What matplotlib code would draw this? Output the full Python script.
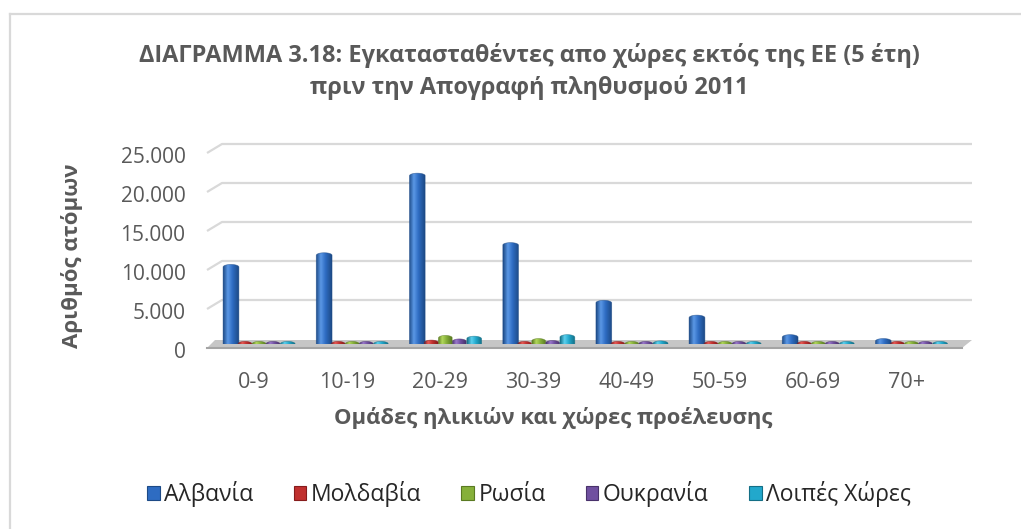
import numpy as np
import matplotlib
matplotlib.use("Agg")
import matplotlib.pyplot as plt
from matplotlib.path import Path
from matplotlib.patches import PathPatch, Polygon, Patch
from matplotlib.colors import LinearSegmentedColormap
from matplotlib.lines import Line2D
from matplotlib.transforms import ScaledTranslation

# ---- data -------------------------------------------------------------
age_groups = ["0-9", "10-19", "20-29", "30-39", "40-49", "50-59", "60-69", "70+"]
countries = ["Αλβανία", "Μολδαβία", "Ρωσία", "Ουκρανία", "Λοιπές Χώρες"]
albania = [10200, 11700, 21900, 13000, 5600, 3700, 1200, 700]
moldova = [150, 300, 500, 300, 150, 150, 100, 100]
russia = [200, 200, 1100, 700, 250, 250, 150, 150]
ukraine = [150, 150, 650, 450, 200, 150, 100, 100]
others = [250, 200, 1000, 1200, 400, 300, 200, 150]
y_ticks = [0, 5000, 10000, 15000, 20000, 25000]

title_lines = ["ΔΙΑΓΡΑΜΜΑ 3.18: Εγκατασταθέντες απο χώρες εκτός της ΕΕ (5 έτη)",
               "πριν την Απογραφή πληθυσμού 2011"]
x_title = "Ομάδες ηλικιών και χώρες προέλευσης"
y_title = "Αριθμός ατόμων"

# ---- style ------------------------------------------------------------
series = [albania, moldova, russia, ukraine, others]
offsets = [-0.247, -0.097, 0.054, 0.204, 0.362]
widths = [0.17, 0.15, 0.15, 0.15, 0.16]
palette = [
    ("#1d4a86", "#5b98e6", "#2e6cc2"),
    ("#861c1c", "#e85a55", "#c0302e"),
    ("#5a7a22", "#b2d85c", "#86b03a"),
    ("#49326b", "#9a78cc", "#7050a0"),
    ("#146f86", "#5cd0ee", "#22a8cc"),
]
text_grey = "#595959"
plt.rcParams["font.family"] = ["Open Sans", "DejaVu Sans"]

W, H, DPI = 1021, 529, 100
fig = plt.figure(figsize=(W / DPI, H / DPI), dpi=DPI)
fig.patch.set_facecolor("white")

ax_l, ax_r, ax_b, ax_t = 207, 972, 344, 149  # pixel frame of the plot area
ax = fig.add_axes([ax_l / W, 1 - ax_b / H, (ax_r - ax_l) / W, (ax_b - ax_t) / H])
cat_step = 93.2                       # pixels per category
x_min = (ax_l - 254) / cat_step
x_max = (ax_r - 254) / cat_step
py = 25000 / (ax_b - ax_t)            # data units per pixel (y)
px = 1 / cat_step                     # data units per pixel (x)
ax.patch.set_alpha(0)
for s in ax.spines.values():
    s.set_visible(False)

# back-wall gridlines with a short perspective stub on the left
for v in y_ticks[1:]:
    ax.plot([x_min, x_min + 15 * px, x_max], [v - 4 * py, v + 5 * py, v + 5 * py],
            color="#d9d9d9", lw=1.6, zorder=1, clip_on=False, solid_capstyle="butt")

# floor
floor = Polygon([(x_min + 8 * px, 4 * py), (x_max, 4 * py),
                 (x_max - 10 * px, -4 * py), (x_min, -4 * py)],
                closed=True, facecolor="#c6c6c6", edgecolor="none", zorder=2, clip_on=False)
ax.add_patch(floor)
ax.plot([x_min, x_max - 10 * px], [-4 * py, -4 * py], color="#a4a4a4", lw=1.5,
        zorder=2, clip_on=False)


def bar_path(x0, x1, v, r):
    """Column outline with rounded top and bottom ends."""
    xc, hw = (x0 + x1) / 2, (x1 - x0) / 2
    top = max(v - r, 0)
    tb = np.linspace(np.pi, 2 * np.pi, 20)
    tt = np.linspace(0, np.pi, 20)
    pts = [(xc + hw * np.cos(t), r * np.sin(t)) for t in tb]
    pts += [(xc + hw * np.cos(t), top + r * np.sin(t)) for t in tt]
    pts.append(pts[0])
    codes = [Path.MOVETO] + [Path.LINETO] * (len(pts) - 2) + [Path.CLOSEPOLY]
    return Path(pts, codes)


grad = np.linspace(0, 1, 64).reshape(1, -1)
r_cap = 2.6 * py
for vals, off, w, (dark, light, base) in zip(series, offsets, widths, palette):
    cmap = LinearSegmentedColormap.from_list(
        "col", [(0, dark), (0.3, light), (0.6, base), (1, dark)])
    for i, v in enumerate(vals):
        x0, x1 = i + off - w / 2, i + off + w / 2
        path = bar_path(x0, x1, v, r_cap)
        im = ax.imshow(grad, cmap=cmap, aspect="auto", interpolation="bilinear",
                       extent=[x0, x1, -r_cap, max(v, r_cap) + r_cap], zorder=3)
        clip = PathPatch(path, transform=ax.transData, facecolor="none", edgecolor="none")
        ax.add_patch(clip)
        im.set_clip_path(clip)
        ax.add_patch(PathPatch(path, facecolor="none", edgecolor=dark, lw=0.5,
                               alpha=0.6, zorder=4))
ax.set_xlim(x_min, x_max)
ax.set_ylim(0, 25000)

# axes ticks
ax.set_yticks(y_ticks)
ax.set_yticklabels([f"{v:,}".replace(",", ".") for v in y_ticks])
ax.set_xticks(range(len(age_groups)))
ax.set_xticklabels(age_groups)
ax.tick_params(axis="y", length=0, pad=15.5, labelsize=15, labelcolor=text_grey)
ax.tick_params(axis="x", length=0, pad=20, labelsize=15.5, labelcolor=text_grey)
shift = ScaledTranslation(0, -6 / DPI, fig.dpi_scale_trans)
for lab in ax.get_yticklabels():
    lab.set_transform(lab.get_transform() + shift)

# titles
for line, yc in zip(title_lines, [55, 88]):
    fig.text(529 / W, 1 - yc / H, line, ha="center", va="center", fontsize=16.9,
             fontweight="bold", color=text_grey)
fig.text(553 / W, 1 - 418 / H, x_title, ha="center", va="center", fontsize=15.8,
         fontweight="bold", color=text_grey)
fig.text(72 / W, 1 - 256 / H, y_title, ha="center", va="center", fontsize=16,
         fontweight="bold", color=text_grey, rotation=90)

# legend
handles = [Patch(facecolor=base, edgecolor=dark, lw=0.8) for dark, light, base in palette]
fig.legend(handles, countries, loc="center", bbox_to_anchor=(529 / W, 1 - 494 / H),
           ncol=5, frameon=False, fontsize=16.5, handlelength=0.55, handleheight=0.55,
           handletextpad=0.2, columnspacing=1.75, labelcolor="#262626")

# outer chart border
fig.add_artist(Line2D([10 / W, 1], [1 - 14 / H, 1 - 14 / H], color="#d9d9d9", lw=1.6))
fig.add_artist(Line2D([10 / W, 10 / W], [0, 1 - 14 / H], color="#d9d9d9", lw=1.6))

fig.savefig("out.png", dpi=DPI)
